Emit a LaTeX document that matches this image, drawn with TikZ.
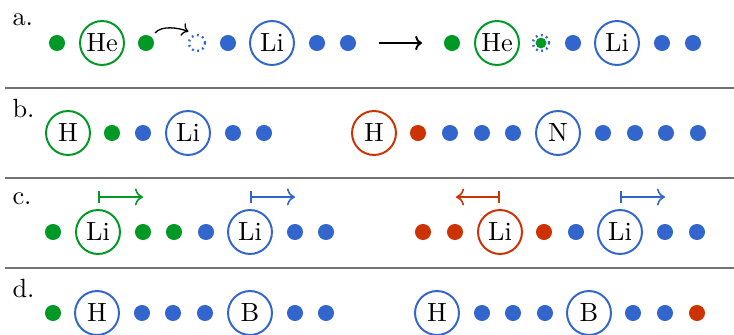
\documentclass[tikz,border=0pt]{standalone}
\usetikzlibrary{arrows.meta}
\definecolor{cgreen}{RGB}{0,153,38}
\definecolor{cblue}{RGB}{51,102,204}
\definecolor{cred}{RGB}{204,51,0}
\definecolor{rulegray}{RGB}{115,115,115}
\begin{document}
\begin{tikzpicture}[x=0.38pt,y=0.38pt,
  dot/.style={circle,fill=#1,inner sep=0pt,minimum size=6.1pt},
  atom/.style={circle,draw=#1,line width=0.75pt,inner sep=0pt,minimum size=16.7pt},
  hole/.style={circle,draw=cblue,dash pattern=on 0.7pt off 1.35pt,line width=0.9pt,inner sep=0pt,minimum size=6.1pt},
  small/.style={circle,fill=cgreen,inner sep=0pt,minimum size=4.1pt},
  sep/.style={draw=rulegray,line width=0.5pt},
  tag/.style={anchor=base west,inner sep=0pt},
  hop/.style={-{To[scale=0.9]},line width=0.5pt},
  reaction/.style={-{To[scale=0.8]},line width=0.75pt},
  shiftarrow/.style={draw=#1,line width=0.6pt,{Bar[width=4.6pt]}-{To[scale=1.05]}}
]
\useasboundingbox (0,0) rectangle (734,334);

% separators between the four panels
\coordinate (s1l) at (5,246); \coordinate (s1r) at (734,246);
\coordinate (s2l) at (5,156); \coordinate (s2r) at (734,156);
\coordinate (s3l) at (5,66);  \coordinate (s3r) at (734,66);
\draw[sep] (s1l) -- (s1r);
\draw[sep] (s2l) -- (s2r);
\draw[sep] (s3l) -- (s3r);

% panel labels
\node[tag] (la) at (12,309) {a.};
\node[tag] (lb) at (12,217) {b.};
\node[tag] (lc) at (12,130) {c.};
\node[tag] (ld) at (12,37)  {d.};

% ---- panel a ----
\node[dot=cgreen] (a1) at (57,291) {};
\node[atom=cgreen] (a2) at (102,291) {He};
\node[dot=cgreen] (a3) at (146,291) {};
\node[hole] (a4) at (197,291) {};
\node[dot=cblue] (a5) at (228,291) {};
\node[atom=cblue] (a6) at (272,291) {Li};
\node[dot=cblue] (a7) at (317,291) {};
\node[dot=cblue] (a8) at (348,291) {};
\draw[hop] ([shift={(3,4)}]a3.45) to[out=50,in=160,looseness=0.8] ([shift={(-2,5)}]a4.135);

% reaction arrow between the two states
\coordinate (rs) at (379,291);
\coordinate (re) at (422,291);
\draw[reaction] (rs) -- (re);

\node[dot=cgreen] (b1) at (452,291) {};
\node[atom=cgreen] (b2) at (497,291) {He};
\node[hole] (b3) at (541,291) {};
\node[small] (b3g) at (541,291) {};
\node[dot=cblue] (b4) at (573,291) {};
\node[atom=cblue] (b5) at (617,291) {Li};
\node[dot=cblue] (b6) at (662,291) {};
\node[dot=cblue] (b7) at (693,291) {};

% ---- panel b ----
\node[atom=cgreen] (c1) at (68,201) {H};
\node[dot=cgreen] (c2) at (112,201) {};
\node[dot=cblue] (c3) at (143,201) {};
\node[atom=cblue] (c4) at (188,201) {Li};
\node[dot=cblue] (c5) at (233,201) {};
\node[dot=cblue] (c6) at (264,201) {};

\node[atom=cred] (d1) at (374,201) {H};
\node[dot=cred] (d2) at (418,201) {};
\node[dot=cblue] (d3) at (450,201) {};
\node[dot=cblue] (d4) at (482,201) {};
\node[dot=cblue] (d5) at (513,201) {};
\node[atom=cblue] (d6) at (558,201) {N};
\node[dot=cblue] (d7) at (603,201) {};
\node[dot=cblue] (d8) at (635,201) {};
\node[dot=cblue] (d9) at (666,201) {};
\node[dot=cblue] (d10) at (698,201) {};

% ---- panel c ----
\node[dot=cgreen] (e1) at (53,102) {};
\node[atom=cgreen] (e2) at (98,102) {Li};
\node[dot=cgreen] (e3) at (143,102) {};
\node[dot=cgreen] (e4) at (174,102) {};
\node[dot=cblue] (e5) at (206,102) {};
\node[atom=cblue] (e6) at (250,102) {Li};
\node[dot=cblue] (e7) at (295,102) {};
\node[dot=cblue] (e8) at (326,102) {};

\node[dot=cred] (f1) at (423,102) {};
\node[dot=cred] (f2) at (455,102) {};
\node[atom=cred] (f3) at (500,102) {Li};
\node[dot=cred] (f4) at (544,102) {};
\node[dot=cblue] (f5) at (576,102) {};
\node[atom=cblue] (f6) at (620,102) {Li};
\node[dot=cblue] (f7) at (665,102) {};
\node[dot=cblue] (f8) at (697,102) {};

% displacement markers above the Li atoms
\coordinate (e2s) at (98,137);  \coordinate (e2t) at (143,137);
\coordinate (e6s) at (250,137); \coordinate (e6t) at (295,137);
\coordinate (f3s) at (500,137); \coordinate (f3t) at (456,137);
\coordinate (f6s) at (620,137); \coordinate (f6t) at (665,137);
\draw[shiftarrow=cgreen] (e2s) -- (e2t);
\draw[shiftarrow=cblue]  (e6s) -- (e6t);
\draw[shiftarrow=cred]   (f3s) -- (f3t);
\draw[shiftarrow=cblue]  (f6s) -- (f6t);

% ---- panel d ----
\node[dot=cgreen] (g1) at (53,21) {};
\node[atom=cblue] (g2) at (97,21) {H};
\node[dot=cblue] (g3) at (142,21) {};
\node[dot=cblue] (g4) at (173,21) {};
\node[dot=cblue] (g5) at (205,21) {};
\node[atom=cblue] (g6) at (250,21) {B};
\node[dot=cblue] (g7) at (295,21) {};
\node[dot=cblue] (g8) at (326,21) {};

\node[atom=cblue] (h1) at (437,21) {H};
\node[dot=cblue] (h2) at (482,21) {};
\node[dot=cblue] (h3) at (513,21) {};
\node[dot=cblue] (h4) at (545,21) {};
\node[atom=cblue] (h5) at (589,21) {B};
\node[dot=cblue] (h6) at (633,21) {};
\node[dot=cblue] (h7) at (665,21) {};
\node[dot=cred] (h8) at (697,21) {};
\end{tikzpicture}
\end{document}
